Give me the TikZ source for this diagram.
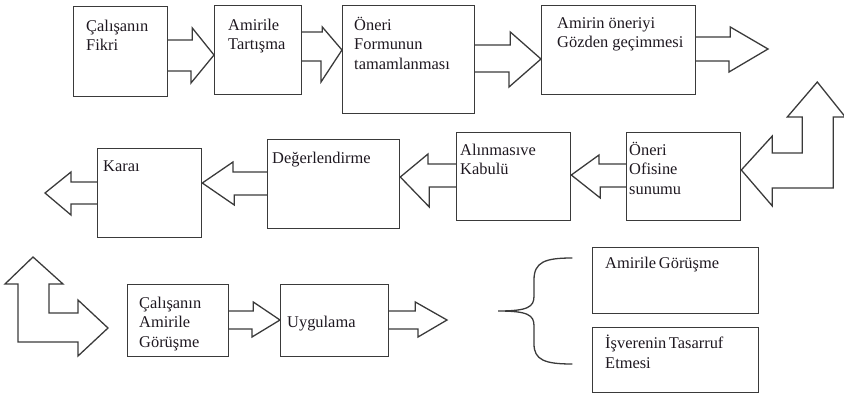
\documentclass[tikz,border=0pt]{standalone}
\usepackage{fontspec}
\setmainfont{Liberation Serif}
\definecolor{cizgi}{HTML}{3A3A3A}
\definecolor{yazirenk}{HTML}{1E1820}
\tikzset{
  kutu/.style={draw=cizgi,line width=1.1pt,anchor=north west,inner sep=0pt},
  yazi/.style={anchor=north west,align=left,inner sep=0pt,text=yazirenk,
    font=\fontsize{14}{16.5}\selectfont},
  okyol/.style={draw=cizgi,line width=1.1pt,line join=miter},
}
\begin{document}
\begin{tikzpicture}[x=0.03cm,y=-0.03cm,line cap=round]
  \useasboundingbox (0,0) rectangle (844,395);
  % kutular
  \node[kutu,minimum width=2.82cm,minimum height=2.70cm] (fikri) at (73,6) {};
  \node[kutu,minimum width=2.61cm,minimum height=2.67cm] (tartisma) at (214,5) {};
  \node[kutu,minimum width=3.96cm,minimum height=3.24cm] (form) at (342,5) {};
  \node[kutu,minimum width=4.62cm,minimum height=2.67cm] (gozden) at (541,5) {};
  \node[kutu,minimum width=3.42cm,minimum height=2.64cm] (ofis) at (626,132) {};
  \node[kutu,minimum width=3.42cm,minimum height=2.64cm] (alinma) at (456,132) {};
  \node[kutu,minimum width=3.96cm,minimum height=2.67cm] (deger) at (267,139) {};
  \node[kutu,minimum width=3.12cm,minimum height=2.67cm] (karar) at (97,148) {};
  \node[kutu,minimum width=3.03cm,minimum height=2.16cm] (gorusme) at (127,284) {};
  \node[kutu,minimum width=3.24cm,minimum height=2.16cm] (uygulama) at (280,284) {};
  \node[kutu,minimum width=4.98cm,minimum height=1.98cm] (amirgor) at (592,247) {};
  \node[kutu,minimum width=4.98cm,minimum height=1.95cm] (isveren) at (592,327) {};
  % yazilar
  \node[yazi] (fikriyazi) at (86,20) {Çalışanın\\Fikri};
  \node[yazi] (tartismayazi) at (228,19) {Amirile\\Tartışma};
  \node[yazi] (formyazi) at (354,17) {Öneri\\Formunun\\tamamlanması};
  \node[yazi] (gozdenyazi) at (557,17) {Amirin öneriyi\\Gözden geçimmesi};
  \node[yazi] (ofisyazi) at (629,142) {Öneri\\Ofisine\\sunumu};
  \node[yazi] (alinmayazi) at (460,144) {Alınmasıve\\Kabulü};
  \node[yazi] (degeryazi) at (272,152) {Değerlendirme};
  \node[yazi] (kararyazi) at (103,161) {Karaı};
  \node[yazi] (gorusmeyazi) at (139,297) {Çalışanın\\Amirile\\Görüşme};
  \node[yazi] (uygulamayazi) at (287,316) {Uygulama};
  \node[yazi] (amirgoryazi) at (605,257) {Amirile\,Görüşme};
  \node[yazi] (isverenyazi) at (605,335) {İşverenin\,Tasarruf\\Etmesi};
  % ust satir oklari
  \draw[okyol] (fikri.east |- 0,40) -- ++(24,0) -- ++(0,-12)
    -- (tartisma.west |- 0,55) -- ++(-23,28) -- ++(0,-12) -- (fikri.east |- 0,71);
  \draw[okyol] (tartisma.east |- 0,32) -- ++(20,0) -- ++(0,-5)
    -- (form.west |- 0,50) -- ++(-21,32) -- ++(0,-21) -- (tartisma.east |- 0,61);
  \draw[okyol] (form.east |- 0,45) -- ++(35,0) -- ++(0,-13)
    -- (gozden.west |- 0,59) -- ++(-32,28) -- ++(0,-15) -- (form.east |- 0,72);
  \coordinate (uc1) at (768,49);
  \draw[okyol] (gozden.east |- 0,37) -- ++(34,0) -- ++(0,-10)
    -- (uc1) -- ++(-39,23) -- ++(0,-11) -- (gozden.east |- 0,61);
  % donus oku (sag)
  \draw[okyol] (ofis.east |- 0,170) -- ++(31,-34) -- ++(0,17) -- ++(30,0)
    -- ++(0,-36) -- ++(-15,0) -- ++(30,-35) -- ++(28,35) -- ++(-12,0)
    -- ++(0,71) -- ++(-61,0) -- ++(0,18) -- cycle;
  % orta satir oklari
  \draw[okyol] (ofis.west |- 0,164) -- ++(-27,0) -- ++(0,-9)
    -- (alinma.east |- 0,175) -- ++(29,23) -- ++(0,-11) -- (ofis.west |- 0,187);
  \draw[okyol] (alinma.west |- 0,164) -- ++(-28,0) -- ++(0,-10)
    -- (deger.east |- 0,177) -- ++(29,30) -- ++(0,-20) -- (alinma.west |- 0,187);
  \draw[okyol] (deger.west |- 0,172) -- ++(-34,0) -- ++(0,-10)
    -- (karar.east |- 0,183) -- ++(32,22) -- ++(0,-10) -- (deger.west |- 0,195);
  \coordinate (uc2) at (45,193);
  \draw[okyol] (karar.west |- 0,182) -- ++(-26,0) -- ++(0,-10)
    -- (uc2) -- ++(26,22) -- ++(0,-11) -- (karar.west |- 0,204);
  % donus oku (sol)
  \draw[okyol] (33,257) -- (63,284) -- (49,284) -- (49,313) -- (78,313)
    -- (78,300) -- (108,328) -- (78,356) -- (78,342) -- (18,342)
    -- (18,284) -- (5,284) -- cycle;
  % alt satir oklari
  \draw[okyol] (gorusme.east |- 0,311) -- ++(24,0) -- ++(0,-9)
    -- (uygulama.west |- 0,320) -- ++(-28,17) -- ++(0,-8) -- (gorusme.east |- 0,329);
  \coordinate (uc3) at (447,320);
  \draw[okyol] (uygulama.east |- 0,311) -- ++(26,0) -- ++(0,-9)
    -- (uc3) -- ++(-29,17) -- ++(0,-8) -- (uygulama.east |- 0,329);
  % kume parantezi
  \draw[okyol] (572,258) .. controls (545,258) and (534,262) .. (534,280)
    -- (534,296) .. controls (534,307) and (528,311) .. (498,311)
    .. controls (528,311) and (534,315) .. (534,326)
    -- (534,344) .. controls (534,360) and (545,364) .. (572,364);
\end{tikzpicture}
\end{document}
